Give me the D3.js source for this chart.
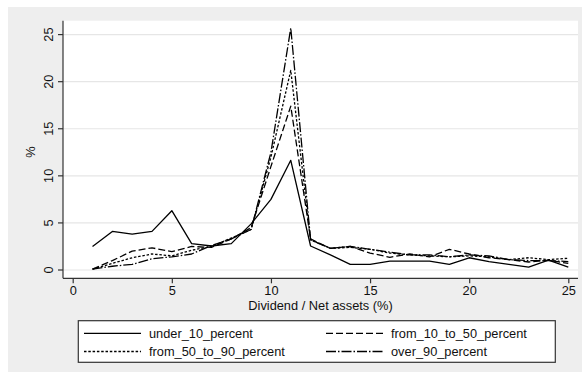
<!DOCTYPE html>
<html><head><meta charset="utf-8">
<script src="https://cdn.jsdelivr.net/npm/d3@7"></script>
<style>body{margin:0;background:#fff;} text{font-family:"Liberation Sans",Arial,sans-serif;}</style>
</head><body>
<svg id="c" width="582" height="378"></svg>
<script>
const xs = d3.range(1, 26);
const under10 = [2.5,4.1,3.8,4.1,6.3,2.8,2.55,2.8,4.9,7.5,11.65,2.55,1.6,0.6,0.6,0.95,0.95,0.95,0.6,1.3,0.9,0.6,0.3,1.05,0.3];
const from10to50 = [0.1,1.0,2.0,2.35,1.95,2.5,2.4,3.3,4.5,11.0,17.4,3.3,2.3,2.5,1.8,1.35,1.7,1.4,2.2,1.7,1.3,1.1,0.85,1.05,0.7];
const from50to90 = [0.1,0.7,1.3,1.7,1.5,2.1,2.5,3.4,4.3,12.0,21.2,3.2,2.3,2.4,2.2,1.8,1.6,1.5,1.4,1.5,1.4,1.1,1.3,1.1,1.25];
const over90 = [0.1,0.4,0.6,1.2,1.4,1.7,2.6,3.3,4.3,12.5,25.7,3.2,2.3,2.5,2.2,1.9,1.6,1.6,1.4,1.6,1.5,1.1,1.0,1.0,0.9];
const seriesNames = ["under_10_percent","from_10_to_50_percent","from_50_to_90_percent","over_90_percent"];
const seriesVals = [under10, from10to50, from50to90, over90];
const dashes = [null, "7,3", "2.5,1.8", "10,2,1.5,2"];
const xTicks = [0,5,10,15,20,25];
const yTicks = [0,5,10,15,20,25];
const FS = 12.8;

const svg = d3.select("#c");
svg.append("rect").attr("x",8).attr("y",7).attr("width",574).attr("height",365).attr("fill","#eeeeee");
const L=63, R=578, T=20.7, B=278.3;
svg.append("rect").attr("x",L).attr("y",T).attr("width",R-L).attr("height",B-T).attr("fill","#fff");
const x = d3.scaleLinear().domain([0,25]).range([72.7,568.3]);
const y = d3.scaleLinear().domain([0,25]).range([270,34.6]);

// gridlines
svg.append("g").selectAll("line").data(yTicks).join("line")
 .attr("x1",L).attr("x2",R).attr("y1",d=>y(d)).attr("y2",d=>y(d))
 .attr("stroke","#e6e6e6").attr("stroke-width",1.2);

// axes
const yAxis = svg.append("g").attr("transform",`translate(${L},0)`)
 .call(d3.axisLeft(y).tickValues(yTicks).tickSize(5).tickPadding(8));
yAxis.select(".domain").attr("d",`M0,${T}V${B}`);
yAxis.selectAll(".tick").attr("transform",null);
yAxis.selectAll(".tick line").attr("y1",d=>y(d)).attr("y2",d=>y(d));
yAxis.selectAll(".tick text").each(function(d){
 d3.select(this).attr("x",-14).attr("y",y(d)).attr("text-anchor","middle").attr("dy","0.35em")
  .attr("transform",`rotate(-90,-14,${y(d)})`);
});

const xAxis = svg.append("g").attr("transform",`translate(0,${B})`)
 .call(d3.axisBottom(x).tickValues(xTicks).tickSize(5).tickPadding(3));
xAxis.select(".domain").attr("d",`M${L},0H${R}`);
[yAxis,xAxis].forEach(a=>{
 a.select(".domain").attr("stroke","#333").attr("stroke-width",1.2);
 a.selectAll(".tick line").attr("stroke","#333").attr("stroke-width",1.2);
 a.selectAll("text").attr("font-size",FS).attr("fill","#111").attr("font-family","Liberation Sans, Arial, sans-serif");
});

svg.append("text").attr("x",(L+R)/2).attr("y",309.5).attr("text-anchor","middle")
 .attr("font-size",FS).attr("fill","#111").text("Dividend / Net assets (%)");
svg.append("text").attr("transform","translate(35,152) rotate(-90)").attr("text-anchor","middle")
 .attr("font-size",FS).attr("fill","#111").text("%");

const line = d3.line().x((d,i)=>x(xs[i])).y(d=>y(d));
seriesVals.forEach((vals,k)=>{
 svg.append("path").datum(vals).attr("d",line).attr("fill","none").attr("stroke","#000")
  .attr("stroke-width",1.3).attr("stroke-dasharray",dashes[k]).attr("stroke-linejoin","round");
});

// legend
svg.append("rect").attr("x",78.3).attr("y",320.7).attr("width",477).attr("height",41.6)
 .attr("fill","#fff").attr("stroke","#333").attr("stroke-width",1.2);
const lx=[84,326], ly=[333.3,351.5];
seriesNames.forEach((n,k)=>{
 const cx=lx[k%2], cy=ly[Math.floor(k/2)];
 svg.append("line").attr("x1",cx).attr("x2",cx+57).attr("y1",cy).attr("y2",cy)
  .attr("stroke","#000").attr("stroke-width",1.3).attr("stroke-dasharray",dashes[k]);
 svg.append("text").attr("x",cx+65).attr("y",cy).attr("dy","0.35em").attr("font-size",FS).attr("fill","#111").text(n);
});
</script>
</body></html>
